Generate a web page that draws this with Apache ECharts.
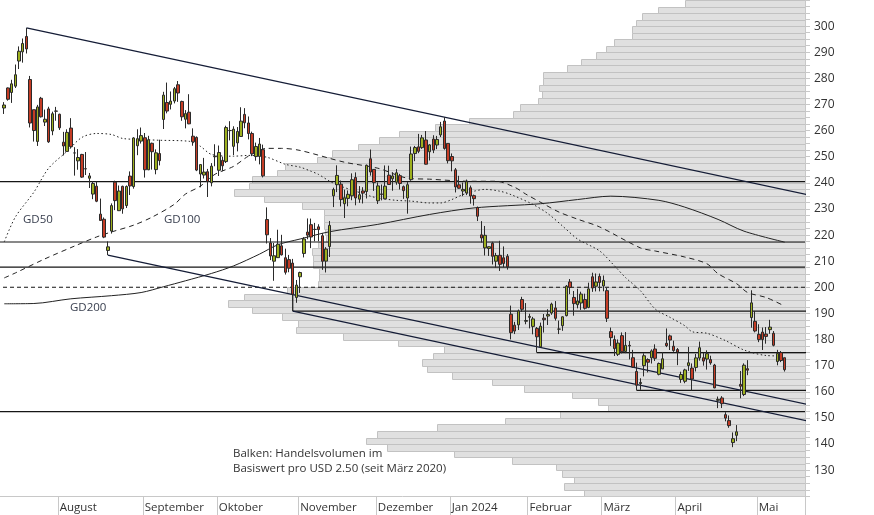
<!DOCTYPE html>
<html><head><meta charset="utf-8">
<script src="https://cdn.jsdelivr.net/npm/echarts@6/dist/echarts.min.js"></script>
<style>html,body{margin:0;padding:0;background:#fff}#c{width:874px;height:515px}</style>
</head><body><div id="c"></div>
<script>
// ---------- trading days (categories) ----------
const dates = [
'2023-07-11','2023-07-12','2023-07-13','2023-07-14','2023-07-17','2023-07-18','2023-07-19','2023-07-20','2023-07-21','2023-07-24','2023-07-25','2023-07-26','2023-07-27','2023-07-28','2023-07-31',
'2023-08-01','2023-08-02','2023-08-03','2023-08-04','2023-08-07','2023-08-08','2023-08-09','2023-08-10','2023-08-11','2023-08-14','2023-08-15','2023-08-16','2023-08-17','2023-08-18','2023-08-21','2023-08-22','2023-08-23','2023-08-24','2023-08-25','2023-08-28','2023-08-29','2023-08-30','2023-08-31',
'2023-09-01','2023-09-05','2023-09-06','2023-09-07','2023-09-08','2023-09-11','2023-09-12','2023-09-13','2023-09-14','2023-09-15','2023-09-18','2023-09-19','2023-09-20','2023-09-21','2023-09-22','2023-09-25','2023-09-26','2023-09-27','2023-09-28','2023-09-29',
'2023-10-02','2023-10-03','2023-10-04','2023-10-05','2023-10-06','2023-10-09','2023-10-10','2023-10-11','2023-10-12','2023-10-13','2023-10-16','2023-10-17','2023-10-18','2023-10-19','2023-10-20','2023-10-23','2023-10-24','2023-10-25','2023-10-26','2023-10-27','2023-10-30','2023-10-31',
'2023-11-01','2023-11-02','2023-11-03','2023-11-06','2023-11-07','2023-11-08','2023-11-09','2023-11-10','2023-11-13','2023-11-14','2023-11-15','2023-11-16','2023-11-17','2023-11-20','2023-11-21','2023-11-22','2023-11-24','2023-11-27','2023-11-28','2023-11-29','2023-11-30',
'2023-12-01','2023-12-04','2023-12-05','2023-12-06','2023-12-07','2023-12-08','2023-12-11','2023-12-12','2023-12-13','2023-12-14','2023-12-15','2023-12-18','2023-12-19','2023-12-20','2023-12-21','2023-12-22','2023-12-26','2023-12-27','2023-12-28','2023-12-29',
'2024-01-02','2024-01-03','2024-01-04','2024-01-05','2024-01-08','2024-01-09','2024-01-10','2024-01-11','2024-01-12','2024-01-16','2024-01-17','2024-01-18','2024-01-19','2024-01-22','2024-01-23','2024-01-24','2024-01-25','2024-01-26','2024-01-29','2024-01-30','2024-01-31',
'2024-02-01','2024-02-02','2024-02-05','2024-02-06','2024-02-07','2024-02-08','2024-02-09','2024-02-12','2024-02-13','2024-02-14','2024-02-15','2024-02-16','2024-02-20','2024-02-21','2024-02-22','2024-02-23','2024-02-26','2024-02-27','2024-02-28','2024-02-29',
'2024-03-01','2024-03-04','2024-03-05','2024-03-06','2024-03-07','2024-03-08','2024-03-11','2024-03-12','2024-03-13','2024-03-14','2024-03-15','2024-03-18','2024-03-19','2024-03-20','2024-03-21','2024-03-22','2024-03-25','2024-03-26','2024-03-27','2024-03-28',
'2024-04-01','2024-04-02','2024-04-03','2024-04-04','2024-04-05','2024-04-08','2024-04-09','2024-04-10','2024-04-11','2024-04-12','2024-04-15','2024-04-16','2024-04-17','2024-04-18','2024-04-19','2024-04-22','2024-04-23','2024-04-24','2024-04-25','2024-04-26','2024-04-29','2024-04-30',
'2024-05-01','2024-05-02','2024-05-03','2024-05-06','2024-05-07','2024-05-08','2024-05-09','2024-05-10'
];
const padSlots = ['pad1','pad2','pad3','pad4','pad5'];

// ---------- candles: [open, close, low, high] ----------
const ohlc = [
[268.65,269.79,266.37,270.90],[276.33,271.99,271.46,276.52],[274.59,277.90,270.60,279.45],[277.01,281.38,276.31,285.30],[286.63,290.38,283.57,292.23],[290.15,293.34,286.01,295.26],[296.04,291.26,289.52,299.29],[279.56,262.90,261.20,280.93],[268.00,260.02,255.80,268.00],[255.85,269.06,254.12,269.85],[272.38,265.28,265.00,272.90],[263.25,264.35,261.75,268.04],[268.31,255.71,255.30,269.13],[259.86,266.44,258.23,267.25],[267.48,267.43,263.78,269.08],
[266.26,261.07,260.25,266.47],[255.57,254.11,250.49,259.52],[252.04,259.32,252.00,260.49],[260.97,253.86,253.11,264.77],[251.45,251.45,242.76,253.65],[248.42,249.70,245.02,252.92],[250.87,242.19,241.90,251.10],[245.40,245.34,243.00,251.80],[241.77,242.65,238.02,243.79],[235.70,239.76,233.75,240.66],[238.73,232.96,232.61,240.50],[228.02,225.60,225.38,233.97],[226.06,219.22,218.83,226.74],[214.12,215.49,212.36,217.58],[221.55,231.28,220.58,232.13],[240.25,233.19,229.55,240.82],[229.34,236.86,229.29,238.98],[238.66,230.04,228.18,238.92],[231.31,238.59,230.35,239.00],[242.58,238.82,235.35,244.38],[238.58,257.18,237.77,257.48],[254.20,256.90,250.59,260.51],[255.98,258.08,255.05,261.18],
[257.26,245.01,242.01,259.08],[245.00,256.49,244.86,258.00],[255.14,251.92,245.06,255.39],[245.07,251.49,243.27,252.81],[251.22,248.50,246.67,256.52],[264.27,273.58,260.61,274.85],[270.76,267.48,266.60,278.39],[270.07,271.30,268.10,274.98],[271.32,276.04,270.42,276.71],[277.55,274.39,271.00,278.98],[271.16,265.28,263.76,271.44],[264.35,266.50,260.86,267.85],[267.04,262.59,262.46,273.93],[257.85,255.70,254.21,260.86],[257.40,244.88,244.48,257.79],[243.38,246.99,238.31,247.10],[242.98,244.12,241.66,249.55],[244.26,240.50,234.58,245.33],[240.02,246.38,238.65,247.55],[250.00,250.22,246.35,254.77],
[244.81,251.60,242.62,254.28],[248.61,246.53,244.45,250.02],[248.14,261.16,247.60,261.86],[260.00,260.05,256.25,263.60],[253.98,260.53,250.65,261.65],[255.31,259.67,252.05,261.36],[257.75,263.62,257.65,268.94],[266.20,262.99,260.90,268.60],[262.92,258.87,256.63,265.41],[258.90,251.12,250.22,259.60],[250.05,253.92,248.48,255.40],[250.10,254.85,247.08,257.18],[252.70,242.68,242.08,254.63],[225.95,220.11,216.78,230.61],[217.01,211.99,210.42,218.86],[210.00,212.08,202.51,216.98],[211.36,216.52,211.30,222.05],[215.88,212.42,212.20,220.10],[211.32,205.76,204.88,214.80],[210.60,207.30,205.77,212.41],[209.28,197.36,194.67,210.88],[196.12,200.84,194.07,202.80],
[204.04,205.66,197.85,205.99],[212.97,218.51,211.45,219.20],[221.15,219.96,218.40,226.37],[223.98,219.27,215.00,226.32],[222.15,222.18,217.64,224.67],[223.15,222.11,217.64,224.15],[219.75,209.98,206.68,220.80],[210.03,214.65,205.69,215.38],[215.60,223.71,211.61,225.40],[235.03,237.41,230.72,238.14],[239.29,242.84,236.45,246.70],[239.49,233.59,230.96,240.88],[232.00,234.30,226.54,237.39],[234.04,235.60,231.02,237.10],[235.04,241.20,233.34,243.62],[242.04,234.21,231.40,244.01],[233.75,235.45,232.33,238.75],[236.89,236.08,232.10,238.33],[236.68,246.72,234.01,247.00],[249.21,244.14,242.76,252.75],[245.14,240.08,236.91,245.22],
[233.14,238.83,231.90,240.19],[235.75,235.58,233.29,239.37],[233.87,238.72,233.70,246.66],[242.92,239.37,239.17,246.57],[241.55,242.64,236.98,244.08],[240.27,243.84,239.27,245.27],[242.74,239.74,237.45,243.44],[238.55,237.01,233.87,238.99],[234.19,239.29,228.20,240.30],[241.22,251.05,240.79,253.88],[251.21,253.50,248.30,254.13],[253.78,252.08,251.36,258.74],[253.48,257.22,253.01,258.34],[256.41,247.14,247.00,259.84],[251.90,254.50,248.55,254.80],[256.76,252.54,251.37,258.22],[254.49,256.61,252.91,257.97],[258.35,261.44,257.52,263.34],[263.66,253.18,252.71,265.13],[255.10,248.48,247.43,255.19],
[250.08,248.42,244.41,251.25],[244.98,238.45,236.32,245.68],[239.25,237.93,237.73,242.70],[236.86,237.49,234.90,240.12],[236.14,240.45,235.30,241.25],[238.11,234.96,232.04,238.96],[235.10,233.94,231.29,235.50],[230.57,227.22,225.37,230.93],[220.08,218.89,217.15,225.34],[215.10,219.91,212.18,223.49],[214.86,215.55,212.01,215.67],[216.88,211.88,208.74,217.45],[209.99,212.19,207.56,213.19],[212.26,208.80,206.27,217.80],[211.30,209.14,207.75,215.65],[211.88,207.83,206.77,212.73],[189.70,182.63,180.06,193.00],[185.50,183.25,182.10,186.78],[185.63,190.93,183.67,191.48],[195.33,191.59,190.61,196.36],[187.00,187.29,185.85,193.97],
[188.50,188.86,184.28,189.88],[185.04,187.91,182.00,188.69],[184.26,181.06,175.01,184.81],[177.21,185.10,177.11,186.49],[188.18,187.58,182.68,189.79],[189.00,189.56,185.58,191.62],[190.18,193.57,189.48,194.12],[192.11,188.13,187.28,194.73],[183.99,184.02,182.11,187.26],[185.30,188.71,183.35,188.89],[189.16,200.45,188.86,200.88],[202.06,199.95,197.40,203.17],[196.13,193.76,189.13,198.60],[193.36,194.77,191.95,199.44],[194.00,197.41,191.36,198.32],[195.31,191.97,191.50,197.57],[192.29,199.40,192.00,201.78],[204.04,199.73,198.26,205.60],[200.42,202.04,198.44,205.30],[204.18,201.88,198.45,205.28],
[200.52,202.64,198.50,204.52],[198.73,188.14,186.72,199.75],[183.05,180.74,177.57,184.59],[179.99,176.54,173.70,181.58],[174.35,178.65,173.70,180.04],[181.50,175.34,174.70,182.73],[175.45,177.77,174.80,182.87],[177.77,177.54,172.41,179.43],[173.05,169.48,169.15,176.05],[167.77,162.50,160.51,171.17],[163.16,163.57,160.76,165.19],[170.02,173.80,165.90,174.72],[172.36,171.32,167.42,172.82],[173.00,175.66,170.82,176.25],[176.39,172.82,171.80,178.18],[166.69,170.83,166.30,171.20],[168.76,172.63,168.73,175.24],[178.58,177.67,177.11,184.25],[181.41,179.83,176.00,181.91],[177.45,175.79,175.30,179.57],
[176.17,175.22,170.21,176.75],[164.75,166.63,163.43,167.69],[164.02,168.38,163.28,168.82],[170.07,171.11,168.01,177.19],[169.08,164.90,160.51,170.86],[169.34,172.98,167.79,174.50],[172.91,176.88,171.92,179.22],[173.04,171.76,170.01,174.93],[172.55,174.60,168.51,175.88],[172.34,171.05,170.36,173.81],[170.24,161.48,161.38,170.69],[156.74,157.11,153.75,158.19],[157.64,155.45,153.78,158.33],[151.25,149.93,148.70,152.20],[148.97,147.05,146.22,150.94],[140.56,142.05,138.80,144.44],[143.33,144.68,141.11,147.26],[162.84,162.13,157.51,167.97],[158.96,170.18,158.36,170.88],[168.85,168.29,166.37,172.12],[188.42,194.05,184.54,198.87],[186.98,183.28,182.76,190.95],
[182.00,179.99,179.01,185.86],[182.86,180.01,176.02,184.60],[182.10,181.19,178.42,184.78],[183.80,184.76,182.20,187.56],[182.40,177.81,177.40,183.26],[171.59,174.72,170.15,176.06],[175.01,171.97,171.37,175.62],[173.05,168.47,167.75,173.06]
];

// ---------- moving averages: [date, value] ----------
const gd50 = [
['2023-07-11',217.4],['2023-07-14',226.9],['2023-07-21',236.4],['2023-07-27',245.6],['2023-08-03',252.1],['2023-08-09',257.4],['2023-08-15',258.9],['2023-08-21',258.5],['2023-08-24',257.0],['2023-08-31',256.6],['2023-09-08',256.3],['2023-09-20',255.9],['2023-09-25',254.0],['2023-09-28',250.9],['2023-10-06',250.2],['2023-10-12',250.5],['2023-10-19',249.8],['2023-10-26',247.1],['2023-11-01',246.0],['2023-11-06',244.4],['2023-11-08',243.2],['2023-11-13',240.6],['2023-11-16',238.7],['2023-11-22',236.8],['2023-11-29',234.9],['2023-12-01',234.2],['2023-12-08',233.3],['2023-12-14',233.0],['2023-12-21',232.3],['2023-12-27',232.3],['2024-01-02',233.6],['2024-01-05',235.5],['2024-01-10',236.8],['2024-01-16',237.5],['2024-01-22',236.8],['2024-01-25',235.5],['2024-02-02',231.7],['2024-02-08',228.2],['2024-02-14',223.4],['2024-02-21',218.5],['2024-02-29',213.9],['2024-03-06',208.2],['2024-03-11',203.7],['2024-03-15',198.7],['2024-03-21',191.7],['2024-03-27',188.5],['2024-04-03',185.3],['2024-04-05',183.0],['2024-04-11',182.4],['2024-04-18',179.6],['2024-04-25',176.0],['2024-05-03',173.9],['2024-05-10',173.7]
];
const gd100 = [
['2023-07-11',203.6],['2023-07-14',205.5],['2023-07-26',210.9],['2023-08-07',215.8],['2023-08-15',219.3],['2023-08-21',221.2],['2023-08-29',223.8],['2023-09-06',226.9],['2023-09-14',231.8],['2023-09-19',235.7],['2023-09-25',238.7],['2023-09-29',243.3],['2023-10-06',246.3],['2023-10-12',250.2],['2023-10-19',253.2],['2023-10-25',253.2],['2023-11-01',252.4],['2023-11-17',247.9],['2023-12-01',245.6],['2023-12-13',241.8],['2023-12-21',241.4],['2024-01-09',240.6],['2024-01-19',240.6],['2024-01-26',238.3],['2024-01-31',235.7],['2024-02-07',231.8],['2024-02-13',228.8],['2024-02-21',226.1],['2024-02-29',223.1],['2024-03-15',215.1],['2024-03-21',213.9],['2024-04-03',211.6],['2024-04-11',209.0],['2024-04-16',205.2],['2024-04-23',201.4],['2024-04-26',198.0],['2024-05-03',196.1],['2024-05-10',192.8]
];
const gd200 = [
['2023-07-11',193.7],['2023-07-21',193.8],['2023-08-04',195.6],['2023-08-21',196.8],['2023-08-31',198.0],['2023-09-11',200.2],['2023-09-19',202.5],['2023-09-28',205.3],['2023-10-06',208.2],['2023-10-17',212.7],['2023-10-24',216.3],['2023-11-01',218.5],['2023-11-13',221.3],['2023-12-01',224.1],['2023-12-21',227.9],['2024-01-10',230.4],['2024-02-06',232.0],['2024-02-21',233.6],['2024-03-05',234.9],['2024-03-22',233.3],['2024-04-03',230.7],['2024-04-16',226.0],['2024-04-25',221.5],['2024-05-10',217.3]
];

// ---------- volume profile (relative volume per USD 2.50 price bin) ----------
const binSize = 2.5;
const profileLows = [120,122.5,125,127.5,130,132.5,135,137.5,140,142.5,145,147.5,150,152.5,155,157.5,160,162.5,165,167.5,170,172.5,175,177.5,180,182.5,185,187.5,190,192.5,195,197.5,200,202.5,205,207.5,210,212.5,215,217.5,220,222.5,225,227.5,230,232.5,235,237.5,240,242.5,245,247.5,250,252.5,255,257.5,260,262.5,265,267.5,270,272.5,275,277.5,280,282.5,285,287.5,290,292.5,295,297.5,300,302.5,305,307.5];
const profileVolumes = [27.5,29.9,28.7,30.2,30.9,36.4,43.6,51.9,54.5,53.2,45.7,37.3,30.4,24.5,25.7,28.9,34.9,38.9,43.9,47.0,47.6,46.2,44.8,50.6,57.4,63.2,63.0,65.0,68.7,71.7,69.7,64.3,60.5,60.4,60.4,61.1,61.1,61.2,60.5,59.5,59.6,59.8,59.8,59.8,62.5,67.2,70.9,69.1,68.7,65.6,64.6,60.6,58.8,55.5,52.9,50.4,46.0,41.7,36.3,35.4,33.2,32.7,33.0,32.5,32.5,29.6,27.8,26.0,24.7,23.7,21.5,21.5,21.0,20.2,18.3,14.9];

// ---------- support / resistance & trend lines ----------
const levelsFull = [240.5, 217.35, 207.7, 152.4];
const levelDashed = [200];
const levelsFrom = [['2023-10-30',190.9],['2024-02-05',175.01],['2024-03-14',160.51]];
const trendTop = [['2023-07-19',299.29],['2023-12-28',265.13]];
const trendLowAnchor = ['2023-08-18',212.36];
const channelAnchor = ['2023-10-30',190.9];

// ---------- axis texts ----------
const monthLabels = [['2023-08','August'],['2023-09','September'],['2023-10','Oktober'],['2023-11','November'],['2023-12','Dezember'],['2024-01','Jan 2024'],['2024-02','Februar'],['2024-03','März'],['2024-04','April'],['2024-05','Mai']];
const maNames = [['GD50',23,219.5],['GD100',164,219.5],['GD200',70,307.5]];
const noteLines = ['Balken: Handelsvolumen im','Basiswert pro USD 2.50 (seit März 2020)'];

// ---------- build ----------
const categories = dates.concat(padSlots);
const labelOf = {};
monthLabels.forEach(m => labelOf[m[0]] = m[1]);
const firstOfMonth = new Set();
dates.forEach((d, i) => { if (i > 0 && d.slice(0,7) !== dates[i-1].slice(0,7) && labelOf[d.slice(0,7)]) firstOfMonth.add(i); });
const isMonthStart = (i) => firstOfMonth.has(i);
const idx = d => dates.indexOf(d);
const edgeIdx = categories.length + 1;  // beyond right edge, clipped by grid

const tIdx0 = idx(trendTop[0][0]), tIdx1 = idx(trendTop[1][0]);
const slope = (trendTop[1][1] - trendTop[0][1]) / (tIdx1 - tIdx0);
const lineAt = (i0, v0, i) => v0 + slope * (i - i0);

const lowI = idx(trendLowAnchor[0]);
const chI = idx(channelAnchor[0]);

const lineDark = '#141c36';
const font = 'Open Sans';
const textCol = '#333';
const textSize = 11.5;

const series = [];
// profile bars
series.push({
  type: 'custom', xAxisIndex: 1, yAxisIndex: 1, z: 1, clip: true, silent: true,
  data: profileLows.map((l, i) => [profileVolumes[i], l]),
  encode: {x: 0, y: 1},
  renderItem: function (params, api) {
    const vol = api.value(0), low = api.value(1);
    const a = api.coord([vol, low + binSize]);
    const b = api.coord([0, low]);
    const x0 = Math.round(a[0]) + 0.5, y0 = Math.round(a[1]) + 0.5;
    const x1 = Math.round(b[0]) + 0.5, y1 = Math.round(b[1]) + 0.5;
    return {type: 'rect', shape: {x: x0, y: y0, width: x1 - x0, height: y1 - y0},
      style: {fill: '#e0e0e0', stroke: '#c2c2c2', lineWidth: 1}};
  }
});
// full-width levels
levelsFull.forEach(v => series.push({type: 'line', xAxisIndex: 1, yAxisIndex: 1, z: 2, symbol: 'none', silent: true,
  data: [[0, v], [100, v]], lineStyle: {color: '#151515', width: 1.2}}));
levelDashed.forEach(v => series.push({type: 'line', xAxisIndex: 1, yAxisIndex: 1, z: 2, symbol: 'none', silent: true,
  data: [[0, v], [100, v]], lineStyle: {color: '#151515', width: 1.1, type: [4, 3]}}));
// partial levels
levelsFrom.forEach(l => series.push({type: 'line', xAxisIndex: 0, yAxisIndex: 0, z: 2, symbol: 'none', silent: true,
  data: [[idx(l[0]), l[1]], [edgeIdx, l[1]]], lineStyle: {color: '#151515', width: 1.2}}));
// connector from lower trend line down to channel start
series.push({type: 'line', xAxisIndex: 0, yAxisIndex: 0, z: 2, symbol: 'none', silent: true,
  data: [[chI, lineAt(lowI, trendLowAnchor[1], chI)], [chI, channelAnchor[1]]],
  lineStyle: {color: '#151515', width: 1.2}});
// moving averages
[[gd50, [1.5, 2.5]], [gd100, [5, 4]], [gd200, 'solid']].forEach(m => series.push({
  type: 'line', xAxisIndex: 0, yAxisIndex: 0, z: 3, symbol: 'none', smooth: 0.3, silent: true,
  data: m[0], lineStyle: {color: '#222', width: 1, type: m[1]}}));
// trend lines
series.push({type: 'line', xAxisIndex: 0, yAxisIndex: 0, z: 4, symbol: 'none', silent: true,
  data: [[tIdx0, trendTop[0][1]], [edgeIdx, lineAt(tIdx0, trendTop[0][1], edgeIdx)]],
  lineStyle: {color: lineDark, width: 1.3}});
series.push({type: 'line', xAxisIndex: 0, yAxisIndex: 0, z: 4, symbol: 'none', silent: true,
  data: [[lowI, trendLowAnchor[1]], [edgeIdx, lineAt(lowI, trendLowAnchor[1], edgeIdx)]],
  lineStyle: {color: lineDark, width: 1.3}});
series.push({type: 'line', xAxisIndex: 0, yAxisIndex: 0, z: 4, symbol: 'none', silent: true,
  data: [[chI, channelAnchor[1]], [edgeIdx, lineAt(chI, channelAnchor[1], edgeIdx)]],
  lineStyle: {color: lineDark, width: 1.3}});
// candles
series.push({type: 'candlestick', xAxisIndex: 0, yAxisIndex: 0, z: 5, barWidth: 3, silent: true,
  data: ohlc,
  itemStyle: {color: '#9db01e', color0: '#c43c25', borderColor: '#2a2a2a', borderColor0: '#2a2a2a', borderWidth: 1}});

const gridTop = -1.92, gridH = 498.2;
const graphics = [];
maNames.forEach(n => graphics.push({type: 'text', x: n[1], y: n[2], z: 10,
  style: {text: n[0], fontSize: textSize, fontFamily: font, fill: '#3a4050', verticalAlign: 'middle'}}));
noteLines.forEach((t, i) => graphics.push({type: 'text', x: 233, y: 454 + i * 14.4, z: 10,
  style: {text: t, fontSize: textSize, fontFamily: font, fill: textCol, verticalAlign: 'middle'}}));

const option = {
  animation: false,
  backgroundColor: '#fff',
  grid: [
    {left: 2.4, top: gridTop, width: 802.6, height: gridH},
    {left: 0, top: gridTop, width: 805, height: gridH}
  ],
  xAxis: [
    {type: 'category', gridIndex: 0, data: categories, boundaryGap: true,
      axisLine: {show: false},
      axisTick: {show: true, interval: (i) => isMonthStart(i), length: 19, lineStyle: {color: '#c8c8c8'}},
      axisLabel: {show: true, interval: (i) => isMonthStart(i), align: 'left', margin: 5, color: textCol,
        fontSize: textSize, fontFamily: font, formatter: (v) => labelOf[v.slice(0,7)] || ''},
      splitLine: {show: false}},
    {type: 'value', gridIndex: 1, min: 0, max: 100, inverse: true, position: 'bottom',
      axisLine: {show: true, onZero: false, lineStyle: {color: '#c8c8c8'}},
      axisTick: {show: false}, axisLabel: {show: false}, splitLine: {show: false}}
  ],
  yAxis: [
    {type: 'value', gridIndex: 0, min: 120, max: 310, interval: 10, show: false, splitLine: {show: false}},
    {type: 'value', gridIndex: 1, min: 120, max: 310, interval: 10, position: 'right',
      axisLine: {show: true, lineStyle: {color: '#c8c8c8'}},
      axisTick: {show: true, length: 5, lineStyle: {color: '#c8c8c8'}},
      minorTick: {show: true, splitNumber: 4, length: 5, lineStyle: {color: '#c8c8c8'}},
      axisLabel: {show: true, margin: 9, color: textCol, fontSize: 12, fontFamily: font, showMinLabel: false, showMaxLabel: false},
      splitLine: {show: false}, minorSplitLine: {show: false}}
  ],
  graphic: graphics,
  series: series
};
const chart = echarts.init(document.getElementById('c'), null, {renderer: 'canvas'});
chart.setOption(option);
</script></body></html>
